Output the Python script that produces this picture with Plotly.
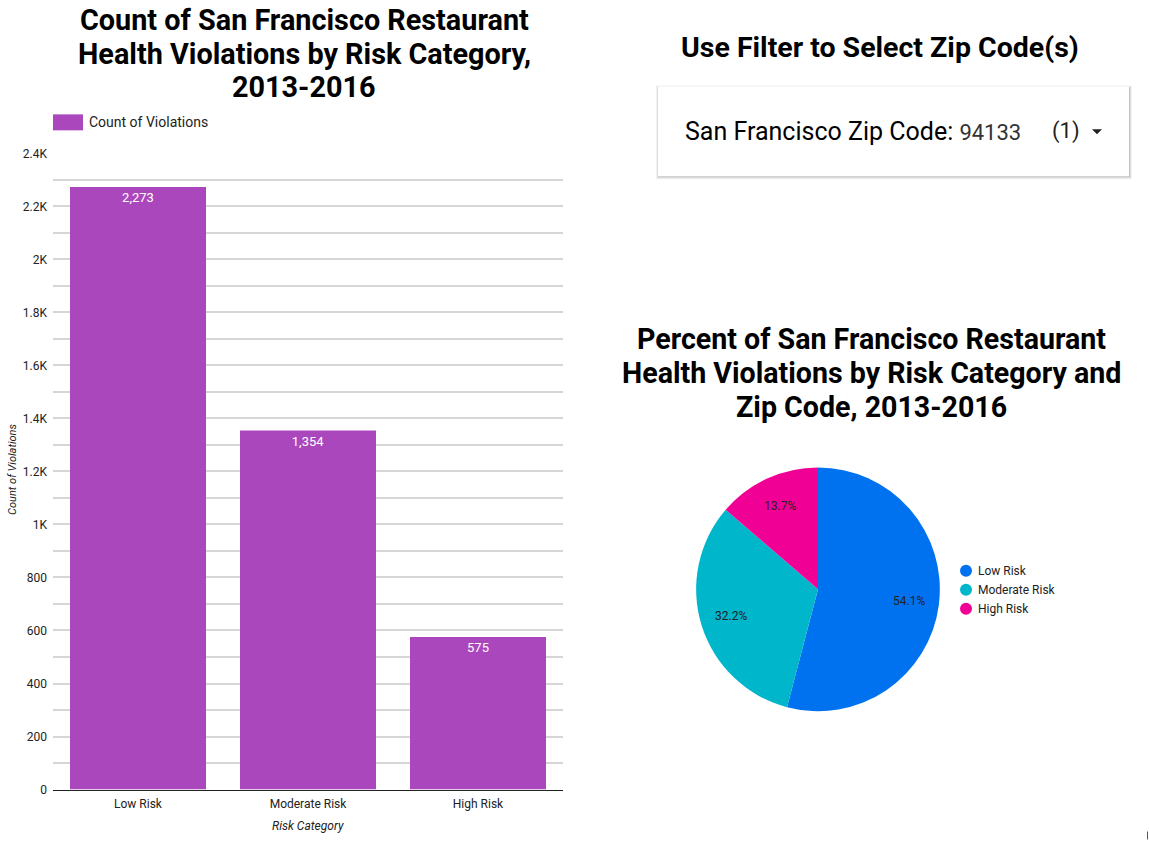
import math
import plotly.graph_objects as go

W, H = 1149, 843

categories = ["Low Risk", "Moderate Risk", "High Risk"]
violations = [2273, 1354, 575]
bar_color = "#AB47BC"
pie_colors = ["#0072F0", "#00B6CB", "#F10096"]
ytick_vals = [0, 200, 400, 600, 800, 1000, 1200, 1400, 1600, 1800, 2000, 2200, 2400]
ytick_text = ["0", "200", "400", "600", "800", "1K", "1.2K", "1.4K", "1.6K", "1.8K", "2K", "2.2K", "2.4K"]
zip_code = "94133"

# calibration of rendered vertical extent
HR, OFF = 830.0, 6.5


def px(x):
    return x / W


def py(y):
    return 1 - (y - OFF) / HR


FONT = "Roboto"
TXT = "#222222"

fig = go.Figure()

fig.add_trace(go.Bar(
    x=categories, y=violations, marker=dict(color=bar_color, line=dict(width=0)),
    texttemplate="%{y:,}", textposition="inside", insidetextanchor="end",
    textfont=dict(color="white", size=13, family=FONT), showlegend=False,
    hoverinfo="x+y",
))

# pie geometry
PCX, PCY, PR = 818.0, 589.5, 122.0
fig.add_trace(go.Pie(
    labels=categories, values=violations, marker=dict(colors=pie_colors, line=dict(width=0)),
    sort=False, direction="clockwise", rotation=0,
    textinfo="none",
    domain=dict(x=[px(PCX - PR), px(PCX + PR)], y=[py(PCY + PR), py(PCY - PR)]),
    showlegend=False,
))

shapes = []
annotations = []

# pie percentage labels computed from data
total = float(sum(violations))
cum = 0.0
for v in violations:
    mid = (cum + v / 2.0) / total
    th = 2 * math.pi * mid
    lx = PCX + 0.75 * PR * math.sin(th)
    ly = PCY - 0.75 * PR * math.cos(th)
    annotations.append(dict(text="%.1f%%" % (100 * v / total), x=px(lx), y=py(ly), xref="paper", yref="paper",
                            xanchor="center", yanchor="middle", showarrow=False,
                            font=dict(size=12, color=TXT, family=FONT)))
    cum += v

# Bar legend
shapes.append(dict(type="rect", xref="paper", yref="paper", x0=px(53), x1=px(83), y0=py(130), y1=py(114),
                   fillcolor=bar_color, line=dict(width=0)))
annotations.append(dict(text="Count of Violations", x=px(87), y=py(122), xref="paper", yref="paper",
                        xanchor="left", yanchor="middle", showarrow=False,
                        font=dict(size=14, color=TXT, family=FONT)))

# Titles (one annotation per line)
def title_lines(lines, cx, ys, size=28):
    for t, yy in zip(lines, ys):
        annotations.append(dict(text="<b>%s</b>" % t, x=px(cx), y=py(yy), xref="paper", yref="paper",
                                xanchor="center", yanchor="middle", showarrow=False,
                                font=dict(size=size, color="#000000", family=FONT)))


title_lines(["Count of San Francisco Restaurant", "Health Violations by Risk Category,", "2013-2016"],
            304, [20, 53.5, 87], size=28.8)
title_lines(["Use Filter to Select Zip Code(s)"], 880, [47], size=28.5)
title_lines(["Percent of San Francisco Restaurant", "Health Violations by Risk Category and", "Zip Code, 2013-2016"],
            871, [339, 373, 407], size=28.6)

# Axis titles
annotations.append(dict(text="<i>Count of Violations</i>", x=px(13), y=py(470), xref="paper", yref="paper",
                        xanchor="center", yanchor="middle", textangle=-90, showarrow=False,
                        font=dict(size=11, color=TXT, family=FONT)))
annotations.append(dict(text="<i>Risk Category</i>", x=px(308), y=py(826), xref="paper", yref="paper",
                        xanchor="center", yanchor="middle", showarrow=False,
                        font=dict(size=12, color=TXT, family=FONT)))

# Filter box with shadow
for i, op in enumerate([0.05, 0.08, 0.12]):
    d = 3 - i
    shapes.append(dict(type="rect", xref="paper", yref="paper", x0=px(658 - d + 1), x1=px(1129 + d),
                       y0=py(176 + d), y1=py(86 - d + 2),
                       fillcolor="rgba(0,0,0,%s)" % op, line=dict(width=0), layer="below"))
shapes.append(dict(type="rect", xref="paper", yref="paper", x0=px(658), x1=px(1129), y0=py(176), y1=py(86),
                   fillcolor="white", line=dict(width=0), layer="below"))
annotations.append(dict(text="San Francisco Zip Code: <span style='font-size:22px;color:#333333'>" + zip_code + "</span>",
                        x=px(683), y=py(131), xref="paper", yref="paper", xanchor="left", yanchor="middle",
                        showarrow=False, font=dict(size=25, color="#000000", family=FONT)))
annotations.append(dict(text="(1)", x=px(1066), y=py(131), xref="paper", yref="paper", xanchor="center", yanchor="middle",
                        showarrow=False, font=dict(size=22, color=TXT, family=FONT)))
shapes.append(dict(type="path", xref="paper", yref="paper",
                   path="M %f %f L %f %f L %f %f Z" % (px(1092), py(129), px(1102), py(129), px(1097), py(134)),
                   fillcolor=TXT, line=dict(width=0)))

# Pie legend
for i, (lab, col) in enumerate(zip(categories, pie_colors)):
    yy = 571 + i * 19
    shapes.append(dict(type="circle", xref="paper", yref="paper", x0=px(960), x1=px(972), y0=py(yy + 6), y1=py(yy - 6),
                       fillcolor=col, line=dict(width=0)))
    annotations.append(dict(text=lab, x=px(976), y=py(yy), xref="paper", yref="paper", xanchor="left", yanchor="middle",
                            showarrow=False, font=dict(size=12, color=TXT, family=FONT)))

# small mark bottom right
shapes.append(dict(type="line", xref="paper", yref="paper", x0=px(1147.5), x1=px(1147.5), y0=py(832), y1=py(840),
                   line=dict(color="#B03A10", width=1)))

fig.update_layout(
    width=W, height=H, margin=dict(l=0, r=0, t=0, b=0),
    paper_bgcolor="white", plot_bgcolor="white",
    font=dict(family=FONT, color=TXT),
    bargap=0.2, showlegend=False,
    shapes=shapes, annotations=annotations,
    xaxis=dict(domain=[px(53), px(563)], showline=True, linecolor=TXT, linewidth=1,
               tickfont=dict(size=12, color=TXT, family=FONT), ticks="", showgrid=False,
               ticklabelstandoff=3, fixedrange=True),
    yaxis=dict(domain=[py(790), py(153)], range=[0, 2400], tickvals=ytick_vals, ticktext=ytick_text,
               tickfont=dict(size=12, color=TXT, family=FONT), showgrid=True, gridcolor="#d6d6d6",
               gridwidth=2, zeroline=False, ticks="", ticklabelstandoff=5,
               minor=dict(dtick=100, showgrid=True, gridcolor="#d6d6d6", gridwidth=2),
               fixedrange=True),
)

fig.write_html("out.html")
